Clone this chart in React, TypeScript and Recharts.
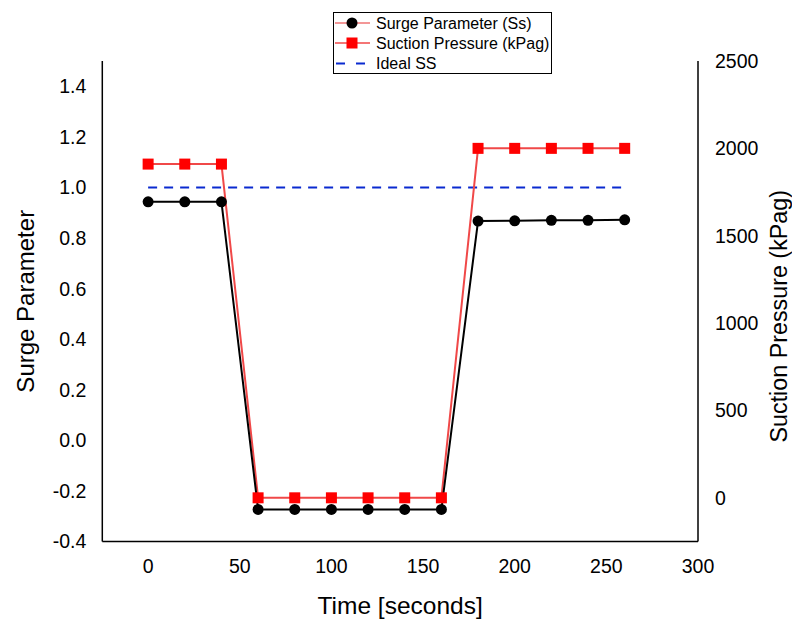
import React from 'react';
import { ComposedChart, Line, XAxis, YAxis, Legend } from 'recharts';

const times = [0, 20, 40, 60, 80, 100, 120, 140, 160, 180, 200, 220, 240, 260];
const surgeParam = [0.943, 0.943, 0.943, -0.273, -0.273, -0.273, -0.273, -0.273, -0.273, 0.867, 0.868, 0.87, 0.87, 0.872];
const suctionPressure = [1910, 1910, 1910, 0, 0, 0, 0, 0, 0, 2000, 2000, 2000, 2000, 2000];
const idealSS = [1, 1, 1, 1, 1, 1, 1, 1, 1, 1, 1, 1, 1, 1];

const xTicks = [0, 50, 100, 150, 200, 250, 300];
const leftTicks = [-0.4, -0.2, 0, 0.2, 0.4, 0.6, 0.8, 1.0, 1.2, 1.4];
const rightTicks = [0, 500, 1000, 1500, 2000, 2500];

const legendItems = ['Surge Parameter (Ss)', 'Suction Pressure (kPag)', 'Ideal SS'];

const data = times.map((t, i) => ({
  t,
  ss: surgeParam[i],
  p: suctionPressure[i],
  ideal: idealSS[i],
}));

const FONT = '"Liberation Sans", Arial, sans-serif';

const SquareDot = (props: any) => {
  const { cx, cy } = props;
  if (cx == null || cy == null) return null;
  return <rect x={cx - 5.5} y={cy - 5.5} width={11} height={11} fill="#ff0000" />;
};

const CircleDot = (props: any) => {
  const { cx, cy } = props;
  if (cx == null || cy == null) return null;
  return <circle cx={cx} cy={cy} r={5.5} fill="#000" />;
};

const renderLegend = () => {
  const rows = [11, 31, 51.5];
  return (
    <svg width={220} height={63} style={{ display: 'block', fontFamily: FONT }}>
      <rect x={0.5} y={0.5} width={218} height={61} fill="#fff" stroke="#000" strokeWidth={1} />
      <line x1={2} x2={37} y1={rows[0]} y2={rows[0]} stroke="#e83030" strokeWidth={1.2} />
      <circle cx={19} cy={rows[0]} r={5.5} fill="#000" />
      <line x1={2} x2={37} y1={rows[1]} y2={rows[1]} stroke="#f04848" strokeWidth={1.5} />
      <rect x={13.5} y={rows[1] - 5.5} width={11} height={11} fill="#ff0000" />
      <line x1={3} x2={34} y1={rows[2]} y2={rows[2]} stroke="#0a2ad0" strokeWidth={2} strokeDasharray="9 11" />
      {legendItems.map((s, i) => (
        <text key={s} x={43} y={rows[i]} dy="0.35em" fontSize={16} fill="#000">
          {s}
        </text>
      ))}
    </svg>
  );
};

export default function App() {
  return (
    <div style={{ width: 792, height: 619, background: '#fff' }}>
      <style>{'html,body{margin:0;padding:0;overflow:hidden;}'}</style>
      <ComposedChart
        width={792}
        height={619}
        data={data}
        margin={{ top: 61, right: 0, bottom: 0, left: 0 }}
        style={{ fontFamily: FONT }}
      >
        <XAxis
          dataKey="t"
          type="number"
          domain={[-25, 300]}
          ticks={xTicks}
          allowDataOverflow
          height={77.5}
          axisLine={{ stroke: '#000', strokeWidth: 1.5 }}
          tickLine={false}
          tickSize={6}
          tickMargin={12}
          tick={{ fill: '#000', fontSize: 19.5 }}
          label={{ value: 'Time [seconds]', position: 'insideBottom', offset: 5, fill: '#000', fontSize: 24.5 }}
        />
        <YAxis
          yAxisId="left"
          domain={[-0.4, 1.5]}
          ticks={leftTicks}
          allowDataOverflow
          width={102.3}
          axisLine={{ stroke: '#000', strokeWidth: 1.5 }}
          tickLine={false}
          tickSize={6}
          tickMargin={10}
          tick={{ fill: '#000', fontSize: 19.5 }}
          tickFormatter={(v: number) => v.toFixed(1)}
          label={{ value: 'Surge Parameter', angle: -90, position: 'insideLeft', offset: 25, fill: '#000', fontSize: 24, style: { textAnchor: 'middle' } }}
        />
        <YAxis
          yAxisId="right"
          orientation="right"
          domain={[-250, 2500]}
          ticks={rightTicks}
          allowDataOverflow
          width={94}
          axisLine={{ stroke: '#000', strokeWidth: 1.5 }}
          tickLine={false}
          tickSize={6}
          tickMargin={11}
          tick={{ fill: '#000', fontSize: 19.5 }}
          label={{ value: 'Suction Pressure (kPag)', angle: -90, position: 'insideRight', offset: 13.5, dy: 15, fill: '#000', fontSize: 23.3, style: { textAnchor: 'middle' } }}
        />
        <Legend
          layout="vertical"
          align="center"
          verticalAlign="middle"
          content={renderLegend}
          wrapperStyle={{ position: 'absolute', left: 333, top: 12, width: 220, height: 63 }}
        />
        <Line
          yAxisId="left"
          dataKey="ideal"
          stroke="#0a2ad0"
          strokeWidth={2}
          strokeDasharray="9 7"
          dot={false}
          activeDot={false}
          isAnimationActive={false}
        />
        <Line
          yAxisId="right"
          dataKey="p"
          stroke="#f04848"
          strokeWidth={2}
          dot={<SquareDot />}
          activeDot={false}
          isAnimationActive={false}
        />
        <Line
          yAxisId="left"
          dataKey="ss"
          stroke="#000"
          strokeWidth={2}
          dot={<CircleDot />}
          activeDot={false}
          isAnimationActive={false}
        />
      </ComposedChart>
    </div>
  );
}
